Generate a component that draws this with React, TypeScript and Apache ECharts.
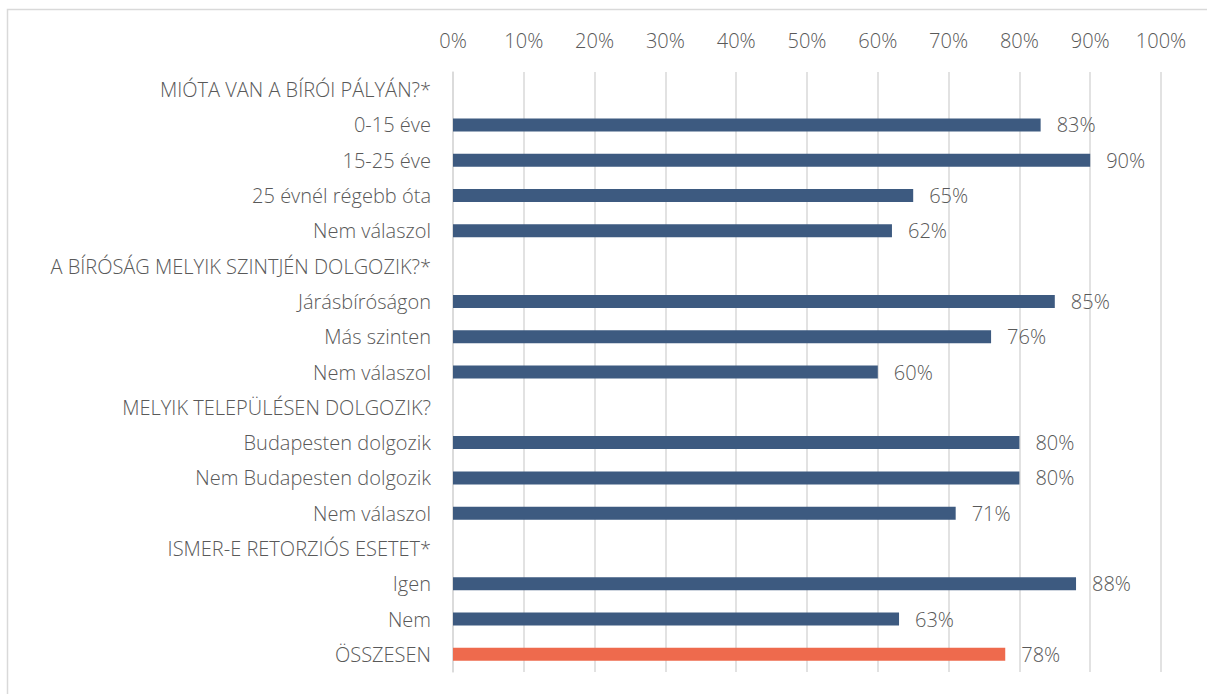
import React, { useEffect, useRef } from "react";
import * as echarts from "echarts";

const categories: string[] = [
  "MIÓTA VAN A BÍRÓI PÁLYÁN?*",
  "0-15 éve",
  "15-25 éve",
  "25 évnél régebb óta",
  "Nem válaszol",
  "A BÍRÓSÁG MELYIK SZINTJÉN DOLGOZIK?*",
  "Járásbíróságon",
  "Más szinten",
  "Nem válaszol ",
  "MELYIK TELEPÜLÉSEN DOLGOZIK?",
  "Budapesten dolgozik",
  "Nem Budapesten dolgozik",
  "Nem válaszol  ",
  "ISMER-E RETORZIÓS ESETET*",
  "Igen",
  "Nem",
  "ÖSSZESEN",
];

const values: (number | null)[] = [
  null, 83, 90, 65, 62, null, 85, 76, 60, null, 80, 80, 71, null, 88, 63, 78,
];

const highlightIndex = 16;
const xTicks = [0, 10, 20, 30, 40, 50, 60, 70, 80, 90, 100];

const BLUE = "#3D5A80";
const ORANGE = "#EE6A4D";
const TEXT = "#595959";
const FONT = "'Open Sans', 'Noto Sans', sans-serif";

export default function App() {
  const ref = useRef<HTMLDivElement>(null);
  useEffect(() => {
    if (!ref.current) return;
    const chart = echarts.init(ref.current, undefined, { renderer: "svg" });
    chart.setOption({
      animation: false,
      backgroundColor: "#ffffff",
      graphic: [
        {
          type: "rect",
          shape: { x: 7.5, y: 9.5, width: 1230, height: 720 },
          style: { fill: "none", stroke: "#d9d9d9", lineWidth: 1.5 },
          silent: true,
        },
      ],
      grid: { left: 453, right: 46, top: 72, bottom: 22, containLabel: false },
      xAxis: {
        type: "value",
        position: "top",
        min: 0,
        max: xTicks[xTicks.length - 1],
        interval: 10,
        axisLine: { show: false },
        axisTick: { show: false },
        splitLine: { show: true, lineStyle: { color: "#d9d9d9", width: 1.5 } },
        axisLabel: {
          formatter: (v: number) => v + "%",
          color: TEXT,
          fontSize: 20,
          fontWeight: 300,
          fontFamily: FONT,
          margin: 22,
        },
      },
      yAxis: {
        type: "category",
        data: categories,
        inverse: true,
        axisLine: { show: true, lineStyle: { color: "#d9d9d9", width: 1.5 } },
        axisTick: { show: false },
        axisLabel: {
          color: TEXT,
          fontSize: 20,
          fontWeight: 300,
          fontFamily: FONT,
          margin: 22,
          formatter: (v: string) => v.trim(),
        },
      },
      series: [
        {
          type: "bar",
          barWidth: 13,
          data: values.map((v, i) => ({
            value: v,
            itemStyle: { color: i === highlightIndex ? ORANGE : BLUE },
          })),
          label: {
            show: true,
            position: "right",
            distance: 16,
            formatter: (p: any) => (p.value == null ? "" : p.value + "%"),
            color: TEXT,
            fontSize: 20,
            fontWeight: 300,
            fontFamily: FONT,
          },
        },
      ],
    });
    return () => chart.dispose();
  }, []);
  return (
    <div
      ref={ref}
      style={{ position: "absolute", left: 0, top: 0, width: 1207, height: 694 }}
    />
  );
}
